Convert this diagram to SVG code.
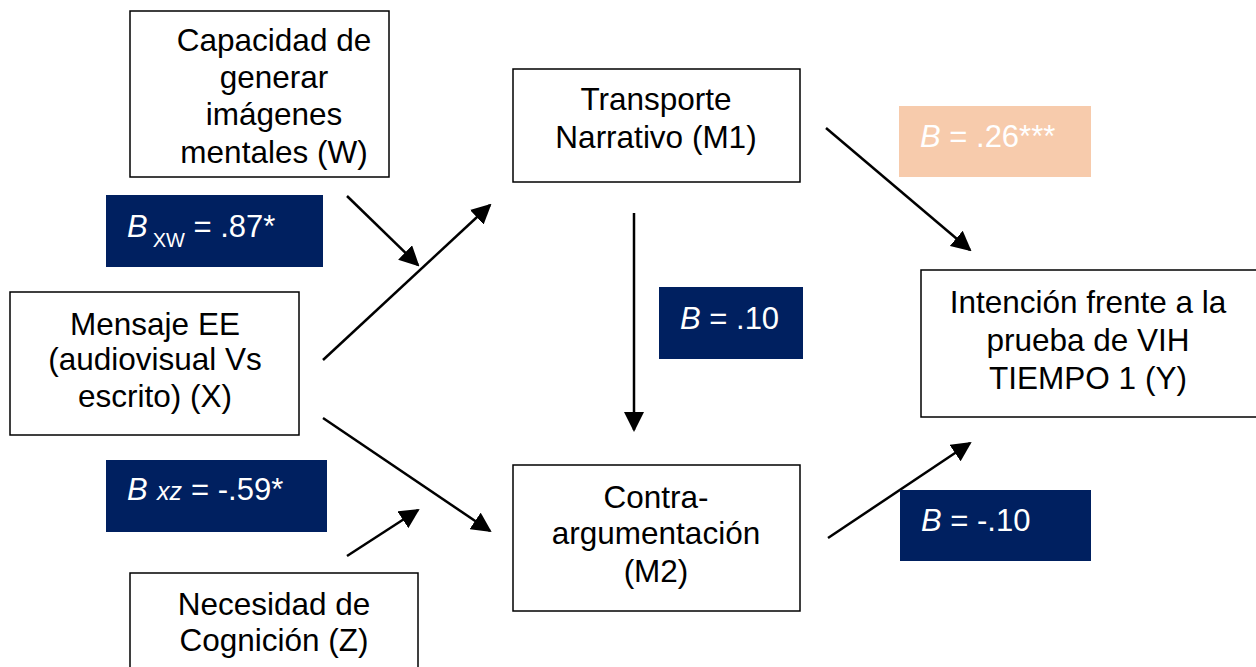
<svg xmlns="http://www.w3.org/2000/svg" width="1256" height="667" viewBox="0 0 1256 667">
  <style>
    .box { fill: #ffffff; stroke: #000000; stroke-width: 1.5; }
    .t { font-family: "Liberation Sans", Arial, sans-serif; font-size: 31.5px; fill: #000000; text-anchor: middle; }
    .lbl { font-family: "Liberation Sans", Arial, sans-serif; font-size: 31px; fill: #ffffff; }
    .navy { fill: #002060; }
    .peach { fill: #F7CBAC; }
    .edge { stroke: #000000; stroke-width: 2.5; fill: none; marker-end: url(#arrowhead); }
  </style>
  <defs>
    <marker id="arrowhead" viewBox="0 0 10 10" refX="9" refY="5" markerWidth="8" markerHeight="8" orient="auto">
      <path d="M0,0 L10,5 L0,10 z" fill="#000000"/>
    </marker>
  </defs>
  <rect width="1256" height="667" fill="#ffffff"/>

  <!-- connectors -->
  <g id="connectors">
    <line class="edge" x1="347" y1="196" x2="418" y2="265"/>
    <line class="edge" x1="323" y1="360" x2="490" y2="205"/>
    <line class="edge" x1="323" y1="418" x2="490" y2="531"/>
    <line class="edge" x1="347" y1="556" x2="418" y2="510"/>
    <line class="edge" x1="634" y1="213" x2="634" y2="430"/>
    <line class="edge" x1="826" y1="128" x2="970" y2="250"/>
    <line class="edge" x1="828" y1="538" x2="970" y2="443"/>
  </g>

  <!-- nodes -->
  <g id="node-w">
    <rect class="box" x="130" y="11" width="259" height="166"/>
    <text class="t" x="274" y="51">Capacidad de</text>
    <text class="t" x="274" y="88">generar</text>
    <text class="t" x="274" y="125">imágenes</text>
    <text class="t" x="274" y="163">mentales (W)</text>
  </g>
  <g id="node-x">
    <rect class="box" x="10" y="292" width="289" height="143"/>
    <text class="t" x="155" y="335">Mensaje EE</text>
    <text class="t" x="155" y="370">(audiovisual Vs</text>
    <text class="t" x="155" y="407">escrito) (X)</text>
  </g>
  <g id="node-m1">
    <rect class="box" x="513" y="69" width="287" height="113"/>
    <text class="t" x="656" y="110">Transporte</text>
    <text class="t" x="656" y="148">Narrativo (M1)</text>
  </g>
  <g id="node-m2">
    <rect class="box" x="513" y="465" width="287" height="146"/>
    <text class="t" x="656" y="508">Contra-</text>
    <text class="t" x="656" y="544">argumentación</text>
    <text class="t" x="656" y="582">(M2)</text>
  </g>
  <g id="node-y">
    <rect class="box" x="921" y="270" width="340" height="147"/>
    <text class="t" x="1088" y="313">Intención frente a la</text>
    <text class="t" x="1088" y="351">prueba de VIH</text>
    <text class="t" x="1088" y="389">TIEMPO 1 (Y)</text>
  </g>
  <g id="node-z">
    <rect class="box" x="130" y="573" width="288" height="110"/>
    <text class="t" x="274" y="615">Necesidad de</text>
    <text class="t" x="274" y="651">Cognición (Z)</text>
  </g>

  <!-- coefficient labels -->
  <g id="label-xw">
    <rect class="navy" x="106" y="195" width="217" height="72"/>
    <text class="lbl" x="127" y="237"><tspan font-style="italic">B</tspan><tspan font-size="20" dx="5" dy="10">XW</tspan><tspan dy="-10"> = .87*</tspan></text>
  </g>
  <g id="label-xz">
    <rect class="navy" x="106" y="460" width="221" height="72"/>
    <text class="lbl" x="127" y="500"><tspan font-style="italic">B</tspan><tspan font-style="italic" font-size="25" x="157">xz</tspan><tspan x="191">= -.59*</tspan></text>
  </g>
  <g id="label-m1y">
    <rect class="peach" x="899" y="106" width="192" height="71"/>
    <text class="lbl" x="920" y="147"><tspan font-style="italic">B</tspan> = .26***</text>
  </g>
  <g id="label-m1m2">
    <rect class="navy" x="659" y="287" width="144" height="72"/>
    <text class="lbl" x="680" y="329"><tspan font-style="italic">B</tspan> = .10</text>
  </g>
  <g id="label-m2y">
    <rect class="navy" x="900" y="490" width="191" height="71"/>
    <text class="lbl" x="921" y="531"><tspan font-style="italic">B</tspan> = -.10</text>
  </g>
</svg>
